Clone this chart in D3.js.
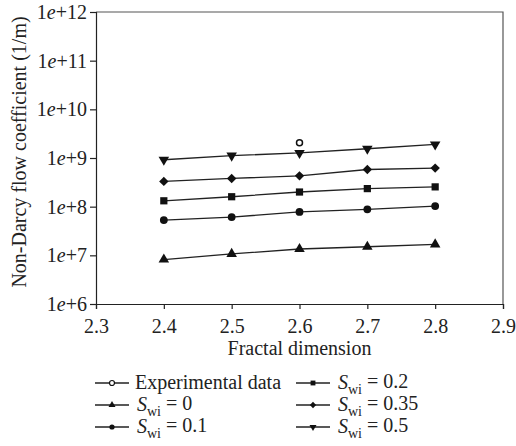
<!DOCTYPE html>
<html>
<head>
<meta charset="utf-8">
<script src="https://cdn.jsdelivr.net/npm/d3@7"></script>
<style>
  body { margin: 0; background: #fff; }
</style>
</head>
<body>
<div id="chart"></div>
<script>
// data
var fractalDims = [2.4, 2.5, 2.6, 2.7, 2.8];
var swi0   = [8.2e6, 1.07e7, 1.35e7, 1.5e7, 1.68e7];
var swi01  = [5.3e7, 6.1e7, 7.8e7, 8.8e7, 1.03e8];
var swi02  = [1.32e8, 1.6e8, 2.0e8, 2.35e8, 2.55e8];
var swi035 = [3.3e8, 3.8e8, 4.3e8, 5.8e8, 6.2e8];
var swi05  = [9.2e8, 1.12e9, 1.27e9, 1.55e9, 1.9e9];
var expX = [2.6];
var expY = [2.05e9];
var xTicks = [2.3, 2.4, 2.5, 2.6, 2.7, 2.8, 2.9];
var yTicks = [1e6, 1e7, 1e8, 1e9, 1e10, 1e11, 1e12];

var serif = "'Liberation Serif', 'Times New Roman', 'DejaVu Serif', serif";
var margin = {top: 12, right: 13, bottom: 142, left: 96};
var fullWidth = 516, fullHeight = 446;
var width = fullWidth - margin.left - margin.right;
var height = fullHeight - margin.top - margin.bottom;

var svg = d3.select("#chart").append("svg")
    .attr("width", fullWidth)
    .attr("height", fullHeight)
    .attr("font-family", serif);

var g = svg.append("g")
    .attr("transform", "translate(" + margin.left + "," + margin.top + ")");

var x = d3.scaleLinear().domain([2.3, 2.9]).range([0, width]);
var y = d3.scaleLog().domain([1e6, 1e12]).range([height, 0]);

// frame top + right
g.append("path")
    .attr("d", "M0,0H" + width + "V" + height)
    .attr("fill", "none")
    .attr("stroke", "#555")
    .attr("stroke-width", 1.2);

var xAxis = g.append("g")
    .attr("transform", "translate(0," + height + ")")
    .call(d3.axisBottom(x).tickValues(xTicks).tickSize(5).tickFormat(d3.format(".1f")));
xAxis.attr("font-family", serif);
xAxis.selectAll("text").attr("dy", "1.05em").attr("fill", "#222").style("font-size", "20px");

var yAxis = g.append("g")
    .call(d3.axisLeft(y).tickValues(yTicks).tickSize(6).tickFormat(""));
yAxis.attr("font-family", serif);
yAxis.selectAll(".tick").each(function(d) {
  var t = d3.select(this).append("text")
      .attr("x", -9).attr("dy", "0.32em")
      .attr("text-anchor", "end")
      .style("font-size", "20px")
      .attr("fill", "#222");
  t.append("tspan").text("1");
  t.append("tspan").style("font-style", "italic").text("e");
  t.append("tspan").text("+" + Math.round(Math.log10(d)));
});
g.selectAll(".domain").attr("stroke", "#222").attr("stroke-width", 1.2);
g.selectAll(".tick line").attr("stroke", "#222").attr("stroke-width", 1.2);

// titles
svg.append("text")
    .attr("x", margin.left + x(2.6))
    .attr("y", 355)
    .attr("text-anchor", "middle")
    .attr("fill", "#222")
    .style("font-size", "20px")
    .text("Fractal dimension");

svg.append("text")
    .attr("transform", "translate(26," + (margin.top + height / 2 - 6) + ") rotate(-90)")
    .attr("text-anchor", "middle")
    .attr("fill", "#222")
    .style("font-size", "20px")
    .text("Non-Darcy flow coefficient (1/m)");

var series = [
  {name: "0", values: swi0, shape: d3.symbolTriangle, size: 48, rot: 0},
  {name: "0.1", values: swi01, shape: d3.symbolCircle, size: 48, rot: 0},
  {name: "0.2", values: swi02, shape: d3.symbolSquare, size: 52, rot: 0},
  {name: "0.35", values: swi035, shape: d3.symbolSquare, size: 44, rot: 45},
  {name: "0.5", values: swi05, shape: d3.symbolTriangle, size: 48, rot: 180}
];

var line = d3.line()
    .x(function(d) { return x(d[0]); })
    .y(function(d) { return y(d[1]); });

series.forEach(function(s) {
  var pts = fractalDims.map(function(d, i) { return [d, s.values[i]]; });
  g.append("path")
      .attr("d", line(pts))
      .attr("fill", "none")
      .attr("stroke", "#222")
      .attr("stroke-width", 1.3);
  g.selectAll(null)
      .data(pts)
      .enter()
      .append("path")
      .attr("d", d3.symbol().type(s.shape).size(s.size))
      .attr("transform", function(d) {
        return "translate(" + x(d[0]) + "," + y(d[1]) + ") rotate(" + s.rot + ")";
      })
      .attr("fill", "#111");
});

g.selectAll(".exp")
    .data(expX.map(function(d, i) { return [d, expY[i]]; }))
    .enter()
    .append("circle")
    .attr("class", "exp")
    .attr("cx", function(d) { return x(d[0]); })
    .attr("cy", function(d) { return y(d[1]); })
    .attr("r", 3)
    .attr("fill", "#fff")
    .attr("stroke", "#111")
    .attr("stroke-width", 1.5);

// legend
var legendItems = [
  {label: "exp", col: 0, row: 0},
  {label: "0", s: series[0], col: 0, row: 1},
  {label: "0.1", s: series[1], col: 0, row: 2},
  {label: "0.2", s: series[2], col: 1, row: 0},
  {label: "0.35", s: series[3], col: 1, row: 1},
  {label: "0.5", s: series[4], col: 1, row: 2}
];
var colX = [95, 296], rowY = [383, 405, 427];

var legend = svg.selectAll(".legend")
    .data(legendItems)
    .enter()
    .append("g")
    .attr("class", "legend")
    .attr("transform", function(d) {
      return "translate(" + colX[d.col] + "," + rowY[d.row] + ")";
    });

legend.append("line")
    .attr("x1", 0).attr("x2", 34)
    .attr("stroke", "#222").attr("stroke-width", 1.3);

legend.each(function(d) {
  var el = d3.select(this);
  if (d.label === "exp") {
    el.append("circle").attr("cx", 17).attr("r", 2.5)
      .attr("fill", "#fff").attr("stroke", "#111").attr("stroke-width", 1.2);
    el.append("text").attr("x", 40).attr("dy", "0.32em").attr("fill", "#222")
      .style("font-size", "20px").text("Experimental data");
  } else {
    el.append("path")
      .attr("d", d3.symbol().type(d.s.shape).size(d.s.size * 0.45))
      .attr("transform", "translate(17,0) rotate(" + d.s.rot + ")")
      .attr("fill", "#111");
    var t = el.append("text").attr("x", 42).attr("dy", "0.32em").attr("fill", "#222")
      .style("font-size", "20px");
    t.append("tspan").style("font-style", "italic").text("S");
    t.append("tspan").attr("dy", "0.3em").style("font-size", "14px").text("wi");
    t.append("tspan").attr("dy", "-0.3em").text(" = " + d.label);
  }
});
</script>
</body>
</html>
